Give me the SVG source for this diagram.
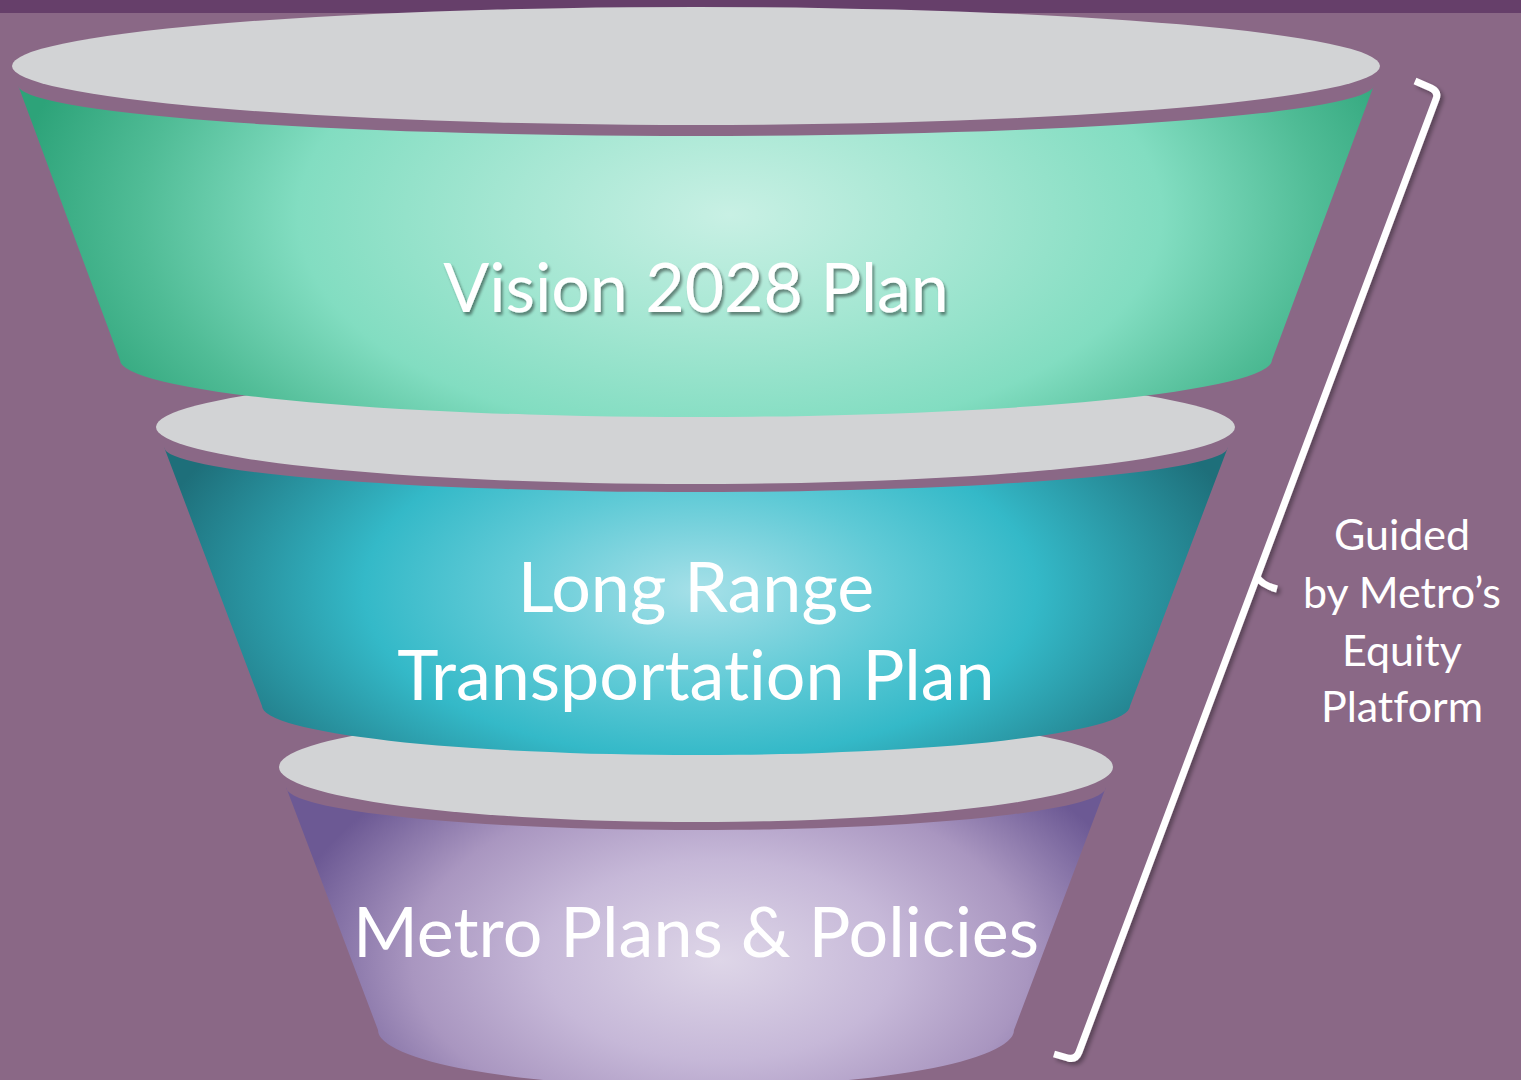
<svg xmlns="http://www.w3.org/2000/svg" width="1521" height="1080" viewBox="0 0 1521 1080">
  <defs>
    <style>
      .cap { fill: #D2D3D5; }
      .label { font-family: Lato, "Liberation Sans", sans-serif; fill: #FFFFFF; text-anchor: middle; font-variant-ligatures: none; font-feature-settings: "liga" 0, "clig" 0; }
      .big { font-size: 70px; }
      .side { font-size: 43px; }
      .brace { fill: none; stroke: #FFFFFF; stroke-width: 7; stroke-linecap: butt; stroke-linejoin: round; }
    </style>
    <radialGradient id="gGreen" gradientUnits="userSpaceOnUse" cx="0" cy="0" r="1" gradientTransform="translate(730 215) scale(720 370)">
      <stop offset="0" stop-color="#C8F0E4"/>
      <stop offset="0.3" stop-color="#A6E7D3"/>
      <stop offset="0.6" stop-color="#82DDC1"/>
      <stop offset="0.82" stop-color="#50BC96"/>
      <stop offset="1" stop-color="#2DA379"/>
    </radialGradient>
    <radialGradient id="gTeal" gradientUnits="userSpaceOnUse" cx="0" cy="0" r="1" gradientTransform="translate(700 590) scale(560 280)">
      <stop offset="0" stop-color="#A6E0E8"/>
      <stop offset="0.35" stop-color="#5FCAD6"/>
      <stop offset="0.6" stop-color="#34B9C8"/>
      <stop offset="1" stop-color="#1E6F7A"/>
    </radialGradient>
    <radialGradient id="gViolet" gradientUnits="userSpaceOnUse" cx="0" cy="0" r="1" gradientTransform="translate(720 960) scale(440 250)">
      <stop offset="0" stop-color="#DED6E8"/>
      <stop offset="0.4" stop-color="#C6B8D8"/>
      <stop offset="0.7" stop-color="#A996C0"/>
      <stop offset="1" stop-color="#6C5994"/>
    </radialGradient>
    <filter id="softShadow" x="-10%" y="-20%" width="120%" height="150%">
      <feGaussianBlur in="SourceAlpha" stdDeviation="1.6"/>
      <feOffset dx="2" dy="3" result="b"/>
      <feComponentTransfer><feFuncA type="linear" slope="0.45"/></feComponentTransfer>
      <feMerge><feMergeNode/><feMergeNode in="SourceGraphic"/></feMerge>
    </filter>
    <filter id="braceShadow" x="-20%" y="-5%" width="140%" height="110%">
      <feGaussianBlur in="SourceAlpha" stdDeviation="2"/>
      <feOffset dx="3" dy="3" result="b"/>
      <feComponentTransfer><feFuncA type="linear" slope="0.35"/></feComponentTransfer>
      <feMerge><feMergeNode/><feMergeNode in="SourceGraphic"/></feMerge>
    </filter>
  </defs>

  <!-- backdrop and header strip -->
  <rect x="0" y="0" width="1521" height="1080" fill="#8A6886"/>
  <rect x="0" y="0" width="1521" height="13" fill="#663F6A"/>

  <!-- bottom tier -->
  <g id="tier-metro-plans">
    <path d="M286,787 A410,43 0 0 0 1106,787 L1014,1030 A318,57 0 0 1 378,1030 Z" fill="url(#gViolet)"/>
    <ellipse class="cap" cx="696" cy="767" rx="417" ry="55"/>
    <text class="label big" x="696" y="957">Metro Plans &amp; Policies</text>
  </g>

  <!-- middle tier -->
  <g id="tier-lrtp">
    <path d="M164,447 A532,45 0 0 0 1228,447 L1130,706 A434,49 0 0 1 262,706 Z" fill="url(#gTeal)"/>
    <ellipse class="cap" cx="695.5" cy="427" rx="539.5" ry="57"/>
    <text class="label big" x="696" y="612">Long Range</text>
    <text class="label big" x="696" y="700">Transportation Plan</text>
  </g>

  <!-- top tier -->
  <g id="tier-vision">
    <path d="M18,85 A678,51 0 0 0 1374,85 L1272,360 A576,57 0 0 1 120,360 Z" fill="url(#gGreen)"/>
    <ellipse class="cap" cx="696" cy="66" rx="684" ry="59"/>
    <text class="label" x="696" y="312" font-size="68" filter="url(#softShadow)">Vision 2028 Plan</text>
  </g>

  <!-- brace spanning all tiers -->
  <g id="connectors">
    <g filter="url(#braceShadow)">
      <path class="brace" d="M1415,81 L1431,88 Q1439,92 1436,99 L1079,1052 Q1076,1060 1068,1058 L1054,1054"/>
      <path class="brace" d="M1257,577 Q1262,585 1277,589"/>
    </g>
  </g>

  <g id="equity-note">
    <text class="label side" x="1402" y="550">Guided</text>
    <text class="label side" x="1402" y="608">by Metro’s</text>
    <text class="label side" x="1402" y="666">Equity</text>
    <text class="label side" x="1402" y="722">Platform</text>
  </g>
</svg>
